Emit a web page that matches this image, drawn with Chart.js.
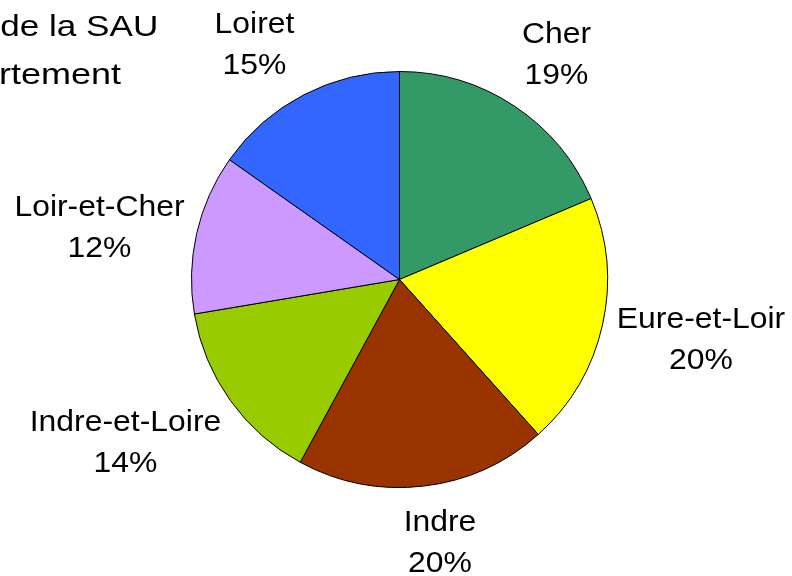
<!DOCTYPE html>
<html lang="fr">
<head>
<meta charset="utf-8">
<script src="https://cdn.jsdelivr.net/npm/chart.js@4"></script>
<style>
  html, body { margin: 0; padding: 0; background: #ffffff; }
  #wrap { width: 792px; height: 576px; position: relative; overflow: hidden; }
</style>
</head>
<body>
<div id="wrap"><canvas id="c" width="792" height="576"></canvas></div>
<script>
// ---- Data ----
const titleLines = ["Répartition de la SAU", "par département"];
const categories = ["Cher", "Eure-et-Loir", "Indre", "Indre-et-Loire", "Loir-et-Cher", "Loiret"];
const sauShares = [18.6, 19.7, 19.5, 14.4, 12.4, 15.2];

// ---- Styles ----
const sliceColors = ["#339966", "#FFFF00", "#993300", "#99CC00", "#CC99FF", "#3366FF"];
// label first-line baseline offsets relative to pie centre (layout only)
const labelOffsets = [[157, -237], [301.5, 48], [40.5, 251.5], [-274, 151.5], [-300, -64], [-145, -247]];
const FONT = '"Liberation Sans", Arial, sans-serif';

function drawStretched(ctx, text, x, y, px, sx) {
  ctx.save();
  ctx.translate(x, y);
  ctx.scale(sx, 1);
  ctx.font = px + 'px ' + FONT;
  ctx.textAlign = 'center';
  ctx.textBaseline = 'alphabetic';
  ctx.fillStyle = '#000000';
  ctx.fillText(text, 0, 0);
  ctx.restore();
}

const labelPlugin = {
  id: 'excelLabels',
  afterDraw(chart) {
    const ctx = chart.ctx;
    const meta = chart.getDatasetMeta(0);
    const data = chart.data.datasets[0].data;
    const total = data.reduce((a, b) => a + b, 0);
    const arc0 = meta.data[0];
    const cx = arc0.x, cy = arc0.y;
    const scale = arc0.outerRadius / 208;
    meta.data.forEach((arc, i) => {
      const off = labelOffsets[i];
      const x = cx + off[0] * scale;
      const y = cy + off[1] * scale;
      drawStretched(ctx, chart.data.labels[i], x, y, 29, 1.1);
      drawStretched(ctx, Math.round(data[i] / total * 100) + '%', x, y + 41, 29, 1.1);
    });
    // title (partly outside the left edge, as in the reference)
    drawStretched(ctx, titleLines[0], -10.5, 36, 30, 1.17);
    drawStretched(ctx, titleLines[1], -11, 84, 30, 1.2);
  }
};

new Chart(document.getElementById('c'), {
  type: 'pie',
  data: {
    labels: categories,
    datasets: [{
      data: sauShares,
      backgroundColor: sliceColors,
      borderColor: '#000000',
      borderWidth: 1
    }]
  },
  options: {
    responsive: false,
    animation: false,
    layout: { padding: { left: 191, right: 184, top: 71, bottom: 88 } },
    plugins: {
      legend: { display: false },
      tooltip: { enabled: false },
      title: { display: false }
    }
  },
  plugins: [labelPlugin]
});
</script>
</body>
</html>
